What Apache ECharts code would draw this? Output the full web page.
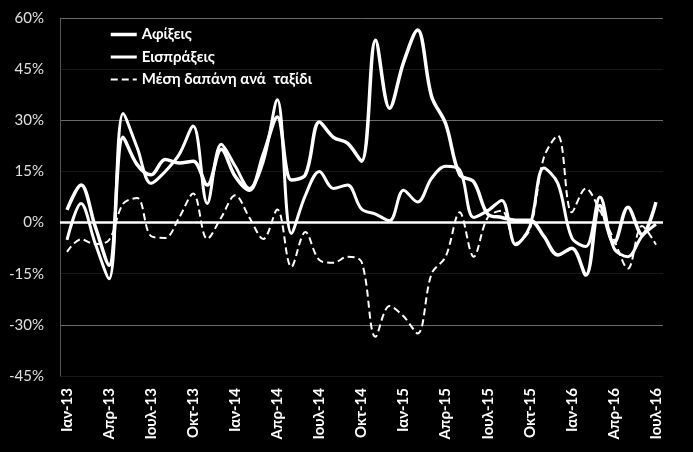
<!DOCTYPE html>
<html><head><meta charset="utf-8">
<script src="https://cdn.jsdelivr.net/npm/echarts@6/dist/echarts.min.js"></script>
<style>html,body{margin:0;padding:0;background:#000}#c{width:693px;height:452px}</style>
</head><body><div id="c"></div>
<script>
const categories = [
  'Ιαν-13','Φεβ-13','Μαρ-13','Απρ-13','Μαϊ-13','Ιουν-13','Ιουλ-13','Αυγ-13','Σεπ-13','Οκτ-13','Νοε-13','Δεκ-13',
  'Ιαν-14','Φεβ-14','Μαρ-14','Απρ-14','Μαϊ-14','Ιουν-14','Ιουλ-14','Αυγ-14','Σεπ-14','Οκτ-14','Νοε-14','Δεκ-14',
  'Ιαν-15','Φεβ-15','Μαρ-15','Απρ-15','Μαϊ-15','Ιουν-15','Ιουλ-15','Αυγ-15','Σεπ-15','Οκτ-15','Νοε-15','Δεκ-15',
  'Ιαν-16','Φεβ-16','Μαρ-16','Απρ-16','Μαϊ-16','Ιουν-16','Ιουλ-16'
];
const seriesNames = ['Αφίξεις', 'Εισπράξεις', 'Μέση δαπάνη ανά  ταξίδι'];
const arrivals = [
  3.7, 11, -1, -12.5, 25, 17, 14, 18.5, 17.5, 18, 11, 21.5,
  13.5, 9.5, 20, 31, 12.5, 14, 29.5, 25, 23.3, 18, 53.5, 33.5,
  47, 56.5, 37, 29, 14, 12, 2.5, 1.5, 0.7, 0.7, -4, -9.5,
  -7.5, -15.4, 5, -6, 4.5, -3.5, 6
];
const receipts = [
  -5.1, 5.6, -6, -16.5, 32, 22, 11.5, 15, 20, 28.3, 5.6, 23,
  16.5, 10, 18, 36, -3.2, 8, 15, 10, 11, 4, 2.5, 0.5,
  9.5, 6, 13, 16.5, 15.5, 1.5, 3.5, 6.5, -6.5, -1.2, 16, 11.5,
  -4.5, -7, 7.5, -7.5, -10, -4, -0.5
];
const spendPerTrip = [
  -8.6, -4.9, -6.3, -5.1, 5.5, 7.2, -4, -4.5, 1.5, 8.5, -4.8, 1.5,
  8, 1.5, -4.8, 3.8, -13, -2.8, -11, -11.8, -10, -11.5, -33.5, -24.5,
  -27.5, -32.5, -15, -10, 3, -10, 1.5, 3.5, -6, -2, 19, 25.5,
  3, 10, 3.5, -5, -13.5, -1, -6.5
];
const yTicks = {min: -45, max: 60, interval: 15};

const chart = echarts.init(document.getElementById('c'), null, {renderer: 'canvas'});
const font = 'Lato, "Open Sans", sans-serif';
chart.setOption({
  backgroundColor: '#000',
  animation: false,
  grid: {left: 60, right: 30, top: 18, bottom: 76},
  legend: {
    left: 104, top: 22, orient: 'vertical',
    itemWidth: 26, itemHeight: 18, itemGap: 7.5,
    data: [
      {name: seriesNames[0], lineStyle: {width: 3.5}},
      {name: seriesNames[1], lineStyle: {width: 3}},
      {name: seriesNames[2], lineStyle: {width: 2}}
    ],
    itemStyle: {opacity: 0},
    textStyle: {color: '#fff', fontSize: 15, fontWeight: 'bold', fontFamily: font}
  },
  xAxis: {
    type: 'category', data: categories, boundaryGap: true,
    axisLine: {show: false},
    axisTick: {show: false},
    axisLabel: {interval: 2, rotate: 90, color: '#fff', fontSize: 15, fontWeight: 'bold', fontFamily: font, margin: 12}
  },
  yAxis: {
    type: 'value', min: yTicks.min, max: yTicks.max, interval: yTicks.interval,
    axisLine: {show: true, lineStyle: {color: '#555', width: 1}},
    axisTick: {show: false},
    axisLabel: {formatter: '{value}%', color: '#e0e0e0', fontSize: 15, fontFamily: font, margin: 16},
    splitLine: {show: true, lineStyle: {color: ['#181818', '#6a6a6a'], width: 1}}
  },
  series: [
    {
      name: seriesNames[0], type: 'line', data: arrivals, smooth: 0.35, symbol: 'none',
      lineStyle: {color: '#fff', width: 3.5}, itemStyle: {color: '#fff'},
      markLine: {silent: true, symbol: 'none', label: {show: false},
        lineStyle: {color: '#fff', width: 2.5, type: 'solid'}, data: [{yAxis: 0}]},
      z: 3
    },
    {
      name: seriesNames[1], type: 'line', data: receipts, smooth: 0.35, symbol: 'none',
      lineStyle: {color: '#fff', width: 3}, itemStyle: {color: '#fff'}, z: 3
    },
    {
      name: seriesNames[2], type: 'line', data: spendPerTrip, smooth: 0.35, symbol: 'none',
      lineStyle: {color: '#fff', width: 2, type: [7, 4]}, itemStyle: {color: '#fff'}, z: 3
    }
  ]
});
</script></body></html>
